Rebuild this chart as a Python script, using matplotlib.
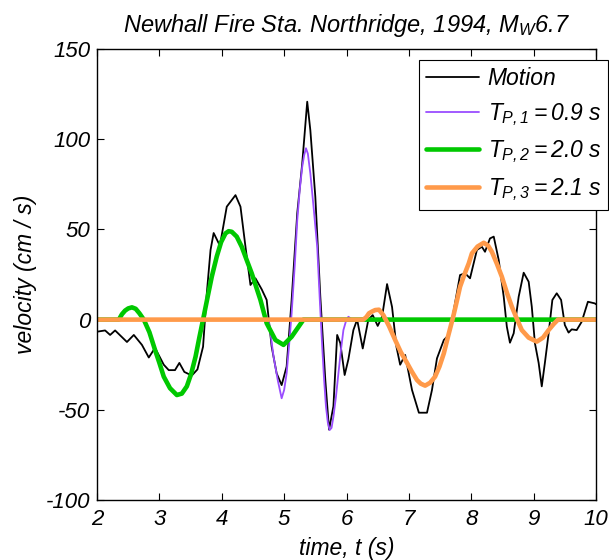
import numpy as np
import matplotlib
matplotlib.use('Agg')
import matplotlib.pyplot as plt

# ground motion (time in s, velocity in cm/s)
motion_t = [2.00, 2.13, 2.21, 2.29, 2.48, 2.59, 2.72, 2.83, 2.93, 3.07, 3.15, 3.25, 3.32, 3.40,
            3.52, 3.61, 3.70, 3.76, 3.82, 3.87, 3.97, 4.08, 4.22, 4.30, 4.38, 4.46, 4.54, 4.64,
            4.72, 4.80, 4.88, 4.96, 5.04, 5.12, 5.21, 5.29, 5.37, 5.42, 5.50, 5.58, 5.66, 5.72,
            5.79, 5.85, 5.90, 5.97, 6.03, 6.11, 6.17, 6.26, 6.35, 6.42, 6.50, 6.57, 6.65, 6.73,
            6.80, 6.86, 6.94, 7.05, 7.16, 7.29, 7.37, 7.45, 7.56, 7.64, 7.72, 7.82, 7.90, 7.98,
            8.09, 8.17, 8.22, 8.30, 8.36, 8.44, 8.52, 8.57, 8.62, 8.68, 8.76, 8.84, 8.92, 8.97,
            9.02, 9.08, 9.13, 9.18, 9.24, 9.30, 9.37, 9.44, 9.50, 9.56, 9.61, 9.69, 9.77, 9.87,
            9.98, 10.0]
motion_v = [-6.7, -6.0, -8.5, -6.0, -12.4, -8.5, -14.0, -21.0, -15.7, -25.0, -28.0, -28.0, -24.0, -29.0,
            -31.0, -27.6, -15.0, 14.6, 38.6, 48.0, 41.0, 62.6, 69.0, 62.6, 40.4, 19.2, 22.9, 16.8,
            10.9, -15.0, -29.8, -36.3, -26.0, 10.9, 59.0, 86.6, 120.8, 105.0, 68.0, 12.7, -33.5, -61.0,
            -48.0, -8.5, -13.0, -30.7, -22.0, -5.8, 0.0, -16.0, 0.0, 2.5, -3.5, 1.6, 19.7, 7.0,
            -15.0, -25.0, -19.6, -39.0, -51.6, -51.6, -39.0, -21.5, -11.3, -8.5, 5.3, 24.7, 25.7, 22.9,
            38.6, 40.4, 37.6, 45.0, 46.0, 33.0, 12.7, -3.9, -12.8, -7.6, 12.7, 26.0, 21.0, 7.2,
            -13.0, -24.0, -37.0, -24.0, -7.6, 10.9, 14.6, 10.9, -3.0, -7.2, -5.4, -5.8, -1.2, 9.9,
            9.0, 8.5]

# pulse 1, T_P = 0.9 s
p1_t = [2.0, 4.75, 4.79, 4.83, 4.90, 4.96, 5.00, 5.04, 5.08, 5.12, 5.17, 5.21, 5.25, 5.29,
        5.32, 5.35, 5.38, 5.42, 5.47, 5.53, 5.57, 5.61, 5.64, 5.67, 5.70, 5.73, 5.76, 5.79,
        5.83, 5.87, 5.91, 5.95, 5.99, 6.03, 6.09, 10.0]
p1_v = [0.0, 0.0, -10.0, -20.5, -34.0, -43.6, -39.0, -29.8, -14.0, 3.5, 30.0, 55.0, 72.0, 84.7,
        91.0, 95.0, 92.0, 81.0, 63.0, 40.4, 12.0, -15.0, -33.0, -48.0, -57.0, -61.2, -60.0, -53.8,
        -43.0, -29.8, -17.0, -5.8, -1.0, 1.6, 0.0, 0.0]

# pulse 2, T_P = 2.0 s
p2_t = [2.0, 2.35, 2.40, 2.45, 2.50, 2.56, 2.62, 2.68, 2.75, 2.84, 2.93, 3.00, 3.07, 3.17,
        3.28, 3.36, 3.44, 3.51, 3.58, 3.64, 3.70, 3.77, 3.84, 3.92, 3.99, 4.06, 4.11, 4.16,
        4.24, 4.32, 4.40, 4.48, 4.62, 4.72, 4.86, 4.99, 5.12, 5.31, 10.0]
p2_v = [0.0, 0.0, 3.0, 5.0, 6.2, 6.8, 6.0, 3.5, 0.0, -7.0, -16.8, -24.0, -31.6, -38.0,
        -41.8, -41.0, -37.0, -30.0, -20.5, -10.0, 0.0, 12.0, 23.8, 35.0, 43.0, 47.8, 49.0, 48.7,
        46.0, 40.4, 33.0, 25.7, 10.9, -2.0, -11.3, -14.0, -9.5, 0.0, 0.0]

# pulse 3, T_P = 2.1 s
p3_t = [2.0, 6.27, 6.32, 6.36, 6.41, 6.46, 6.52, 6.59, 6.68, 6.78, 6.87, 6.97, 7.05, 7.13,
        7.19, 7.26, 7.34, 7.42, 7.49, 7.56, 7.63, 7.71, 7.76, 7.82, 7.89, 7.96, 8.01, 8.10,
        8.20, 8.27, 8.33, 8.41, 8.49, 8.57, 8.65, 8.73, 8.81, 8.92, 9.05, 9.15, 9.24, 9.32,
        9.39, 10.0]
p3_v = [0.0, 0.0, 1.5, 3.5, 4.5, 5.3, 5.5, 2.5, -3.5, -11.3, -18.0, -24.0, -29.0, -33.5,
        -35.5, -36.6, -35.0, -31.6, -26.0, -18.7, -9.0, 1.6, 9.0, 18.2, 25.0, 31.2, 36.7, 40.5,
        42.6, 41.0, 37.6, 31.0, 23.8, 15.0, 7.2, 0.5, -5.8, -10.0, -12.2, -10.0, -5.8, -2.5,
        0.0, 0.0]

labels = ['Motion', r'$T_{P,1} = 0.9\ s$', r'$T_{P,2} = 2.0\ s$', r'$T_{P,3} = 2.1\ s$']
colors = ['black', '#9a4dff', '#00c800', '#ff9a4a']

plt.rcParams['font.family'] = ['Liberation Sans', 'DejaVu Sans']
plt.rcParams['font.style'] = 'italic'
plt.rcParams['mathtext.fontset'] = 'custom'
plt.rcParams['mathtext.it'] = 'Liberation Sans:italic'
plt.rcParams['mathtext.rm'] = 'Liberation Sans:italic'
plt.rcParams['mathtext.default'] = 'it'
plt.rcParams['axes.unicode_minus'] = False

fig = plt.figure(figsize=(6.09, 5.6), dpi=100)
ax = fig.add_axes([0.1593, 0.1071, 0.8194, 0.8054])

kw = dict(solid_joinstyle='round', solid_capstyle='round')
ax.plot(motion_t, motion_v, color=colors[0], lw=1.3, label=labels[0], **kw)
ax.plot(p1_t, p1_v, color=colors[1], lw=1.3, label=labels[1], **kw)
ax.plot(p2_t, p2_v, color=colors[2], lw=3.3, label=labels[2], **kw)
ax.plot(p3_t, p3_v, color=colors[3], lw=3.3, label=labels[3], **kw)

ax.set_xlim(2, 10)
ax.set_ylim(-100, 150)
ax.set_xticks(np.arange(2, 11, 1))
ax.set_yticks(np.arange(-100, 151, 50))
ax.tick_params(direction='in', top=True, right=True, length=5, width=0.8, labelsize=16)
ax.tick_params(axis='x', pad=6.5)
ax.tick_params(axis='y', pad=5)
for s in ax.spines.values():
    s.set_linewidth(1.0)

ax.set_xlabel('time, t (s)', fontsize=16.5, labelpad=5)
ax.set_ylabel('velocity (cm / s)', fontsize=16.5, labelpad=6)
ax.set_title(r'Newhall Fire Sta. Northridge, 1994, $M_W$6.7', fontsize=17, pad=12)

leg = ax.legend(loc='upper right', bbox_to_anchor=(1.024, 0.975), fontsize=16.5,
                fancybox=False, framealpha=1, edgecolor='black', borderaxespad=0,
                handlelength=2.3, labelspacing=0.47, borderpad=0.3, handletextpad=0.4)
leg.get_frame().set_linewidth(0.8)

fig.savefig('out.png', dpi=100)
